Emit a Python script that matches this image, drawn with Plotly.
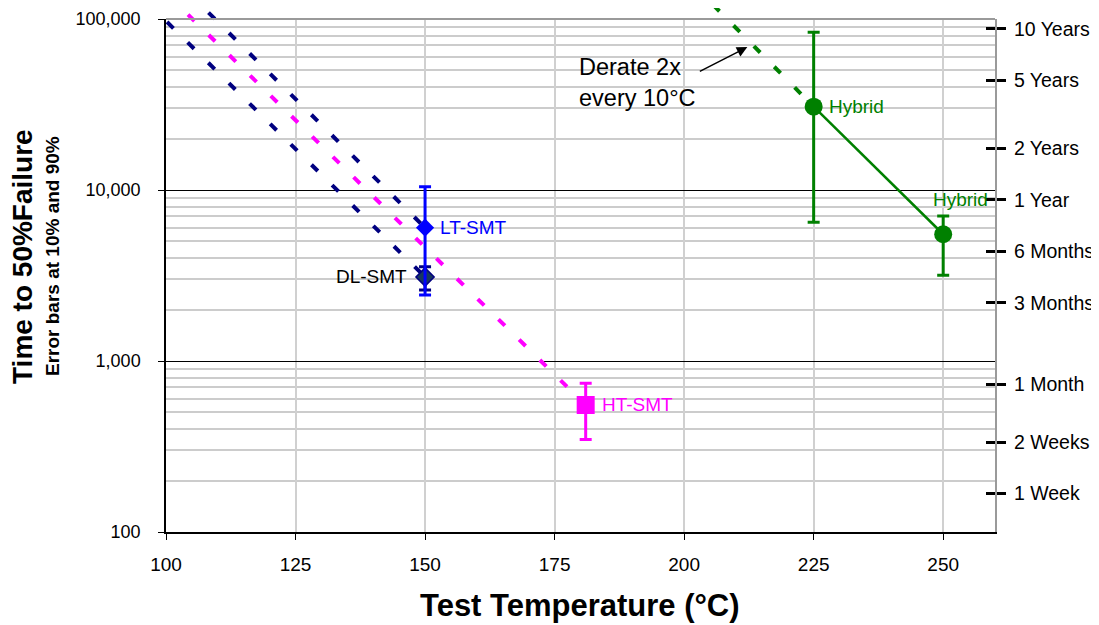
import numpy as np
import plotly.graph_objects as go

# ---------------- data (hours to 50% failure, error bars at 10% / 90%) ----------------
lt_temp = [150]
lt_t50 = [6020]
lt_p90 = [10450]
lt_p10 = [2430]

dl_temp = [150]
dl_t50 = [3100]
dl_p90 = [3560]
dl_p10 = [2600]

ht_temp = [181]
ht_t50 = [553]
ht_p90 = [741]
ht_p10 = [348]

hyb_temp = [225, 250]
hyb_t50 = [30700, 5510]
hyb_p90 = [83600, 7045]
hyb_p10 = [6470, 3170]

# derating lines (2x every 10 C), end points
lt_derate_temp = [108.2, 150]
lt_derate_hours = [109000, 6020]
dl_derate_temp = [100.2, 150]
dl_derate_hours = [96000, 3100]
ht_derate_temp = [104.25, 181]
ht_derate_hours = [106000, 553]
hyb_derate_temp = [205.6, 225]
hyb_derate_hours = [121000, 30700]

x_ticks = [100, 125, 150, 175, 200, 225, 250]
y_ticks = [100, 1000, 10000, 100000]
y_ticktext = ["100", "1,000", "10,000", "100,000"]
time_hours = [87600, 43800, 17520, 8760, 4380, 2190, 730, 336, 168]
time_labels = ["10 Years", "5 Years", "2 Years", "1 Year", "6 Months", "3 Months",
               "1 Month", "2 Weeks", "1 Week"]

FONT = "Arial, Liberation Sans, sans-serif"
NAVY = "#000080"
BLUE = "#0000FF"
MAGENTA = "#FF00FF"
GREEN = "#008000"

# geometry (page has an 8px body margin, figure coords = page coords - 8)
W, H = 1091, 617
H_PLOT = 524          # plot area height, from figure top
H_FRAME = 513         # frame height (3 decades)
dec_px = H_FRAME / 3.0
y2_top = 2 + H_PLOT / dec_px

fig = go.Figure()

def err(vals, hi, lo):
    return dict(type="data", array=[h - v for h, v in zip(hi, vals)],
                arrayminus=[v - l for v, l in zip(vals, lo)])

dash = "9px,20px"
for xs, ys, col in [(lt_derate_temp, lt_derate_hours, NAVY),
                    (dl_derate_temp, dl_derate_hours, NAVY),
                    (ht_derate_temp, ht_derate_hours, MAGENTA),
                    (hyb_derate_temp, hyb_derate_hours, GREEN)]:
    fig.add_trace(go.Scatter(x=xs, y=ys, mode="lines", xaxis="x2", yaxis="y2",
                             line=dict(color=col, width=4, dash=dash),
                             hoverinfo="skip", showlegend=False))

# DL-SMT
e = err(dl_t50, dl_p90, dl_p10)
e.update(color=NAVY, thickness=3, width=6)
fig.add_trace(go.Scatter(x=dl_temp, y=dl_t50, mode="markers", xaxis="x2", yaxis="y2",
                         marker=dict(symbol="diamond", size=14, color="#17375E",
                                     line=dict(color=NAVY, width=1.5)),
                         error_y=e, showlegend=False))
# LT-SMT
e = err(lt_t50, lt_p90, lt_p10)
e.update(color=BLUE, thickness=3, width=6)
fig.add_trace(go.Scatter(x=lt_temp, y=lt_t50, mode="markers", xaxis="x2", yaxis="y2",
                         marker=dict(symbol="diamond", size=14, color=BLUE),
                         error_y=e, showlegend=False))
# HT-SMT
e = err(ht_t50, ht_p90, ht_p10)
e.update(color=MAGENTA, thickness=3, width=6)
fig.add_trace(go.Scatter(x=ht_temp, y=ht_t50, mode="markers", xaxis="x2", yaxis="y2",
                         marker=dict(symbol="square", size=18, color=MAGENTA),
                         error_y=e, showlegend=False))
# Hybrid
e = err(hyb_t50, hyb_p90, hyb_p10)
e.update(color=GREEN, thickness=3, width=6)
fig.add_trace(go.Scatter(x=hyb_temp, y=hyb_t50, mode="lines+markers", xaxis="x2", yaxis="y2",
                         line=dict(color=GREEN, width=2.5),
                         marker=dict(symbol="circle", size=18, color=GREEN),
                         error_y=e, showlegend=False))

# invisible helpers so that the axes are drawn
for ya in ["y", "y3", "y4"]:
    fig.add_trace(go.Scatter(x=[150], y=[1000], mode="markers", xaxis="x", yaxis=ya,
                             marker=dict(opacity=0), hoverinfo="skip", showlegend=False))

minor_vals = [m * d for d in [100, 1000, 10000] for m in range(2, 10)]

fig.update_layout(
    width=W, height=H,
    margin=dict(l=158, r=104, t=0, b=H - H_PLOT, autoexpand=False),
    paper_bgcolor="white", plot_bgcolor="rgba(0,0,0,0)",
    font=dict(family=FONT, color="black", size=18),
    showlegend=False,
    xaxis=dict(range=[100, 260], tickvals=x_ticks, ticks="outside", ticklen=6,
               tickcolor="black", tickwidth=1, showline=True, linecolor="black",
               linewidth=1.5, showgrid=True, gridcolor="#d0d0d0", gridwidth=1.5,
               zeroline=False, tickfont=dict(size=19), ticklabelstandoff=8,
               anchor="y", automargin=False),
    yaxis=dict(type="log", range=[2, 5], domain=[0, H_FRAME / H_PLOT],
               tickvals=y_ticks, ticktext=y_ticktext, ticks="outside", ticklen=6,
               tickcolor="black", showline=True, linecolor="black", linewidth=1.5,
               showgrid=True, gridcolor="black", gridwidth=1, zeroline=False,
               tickfont=dict(size=18), ticklabelstandoff=14, automargin=False,
               minor=dict(tickvals=minor_vals, showgrid=True, gridcolor="#cccccc",
                          gridwidth=1.5, ticks=""),
               anchor="x"),
    yaxis3=dict(type="log", range=[2, 5], overlaying="y", side="right", anchor="x",
                tickvals=time_hours, ticktext=time_labels, ticks="outside", ticklen=9,
                tickwidth=3, tickcolor="black", showline=True, linecolor="#9a9a9a",
                linewidth=2, showgrid=False, zeroline=False, automargin=False,
                tickfont=dict(size=19.5), ticklabelstandoff=4),
    yaxis4=dict(type="log", range=[2, 5], overlaying="y", side="right", anchor="x",
                tickvals=time_hours, ticks="inside", ticklen=9, tickwidth=3,
                tickcolor="black", showticklabels=False, showline=False,
                showgrid=False, zeroline=False, automargin=False),
    xaxis2=dict(range=[100, 260], domain=[0, 1], anchor="y2", visible=False,
                automargin=False),
    yaxis2=dict(type="log", range=[2, y2_top], domain=[0, 1], anchor="x2", visible=False,
                automargin=False),
)

# top frame line
fig.add_shape(type="line", xref="x domain", yref="y domain", x0=0, x1=1, y0=1, y1=1,
              line=dict(color="#9a9a9a", width=2))

ann = []
def lab(x, y, text, color, xanchor, xshift, yshift=0):
    ann.append(dict(x=x, y=np.log10(y), xref="x2", yref="y2", text=text, showarrow=False,
                    xanchor=xanchor, yanchor="middle", xshift=xshift, yshift=yshift,
                    font=dict(family=FONT, size=19, color=color)))

lab(lt_temp[0], lt_t50[0], "LT-SMT", BLUE, "left", 13)
lab(dl_temp[0], dl_t50[0], "DL-SMT", "black", "right", -16)
lab(ht_temp[0], ht_t50[0], "HT-SMT", MAGENTA, "left", 14)
lab(hyb_temp[0], hyb_t50[0], "Hybrid", GREEN, "left", 13)
lab(hyb_temp[1], hyb_t50[1], "Hybrid", GREEN, "center", 17, 35)

# derate note with arrow
ann.append(dict(x=179.3, y=np.log10(42500), xref="x2", yref="y2",
                text="Derate 2x<br>every 10°C", showarrow=False, xanchor="left",
                yanchor="middle", align="left",
                font=dict(family=FONT, size=23.5, color="black")))
ann.append(dict(x=212.2, y=np.log10(68500), xref="x2", yref="y2", text="",
                showarrow=True, ax=-49, ay=25, arrowhead=2, arrowsize=1.4,
                arrowwidth=1.5, arrowcolor="black"))

def px(xp):
    return (xp - 166) / 829.0

def py(yp):
    return 1 - (yp - 8) / H_PLOT

# axis titles
ann.append(dict(x=px(22), y=py(257), xref="paper", yref="paper",
                text="<b>Time to 50%Failure</b>", textangle=-90, showarrow=False,
                xanchor="center", yanchor="middle",
                font=dict(family=FONT, size=28, color="black")))
ann.append(dict(x=px(52), y=py(256), xref="paper", yref="paper",
                text="<b>Error bars at 10% and 90%</b>", textangle=-90, showarrow=False,
                xanchor="center", yanchor="middle",
                font=dict(family=FONT, size=19, color="black")))
ann.append(dict(x=px(580), y=py(605), xref="paper", yref="paper",
                text="<b>Test Temperature (°C)</b>", showarrow=False,
                xanchor="center", yanchor="middle",
                font=dict(family=FONT, size=31, color="black")))

fig.update_layout(annotations=ann)
fig.write_html("out.html")
